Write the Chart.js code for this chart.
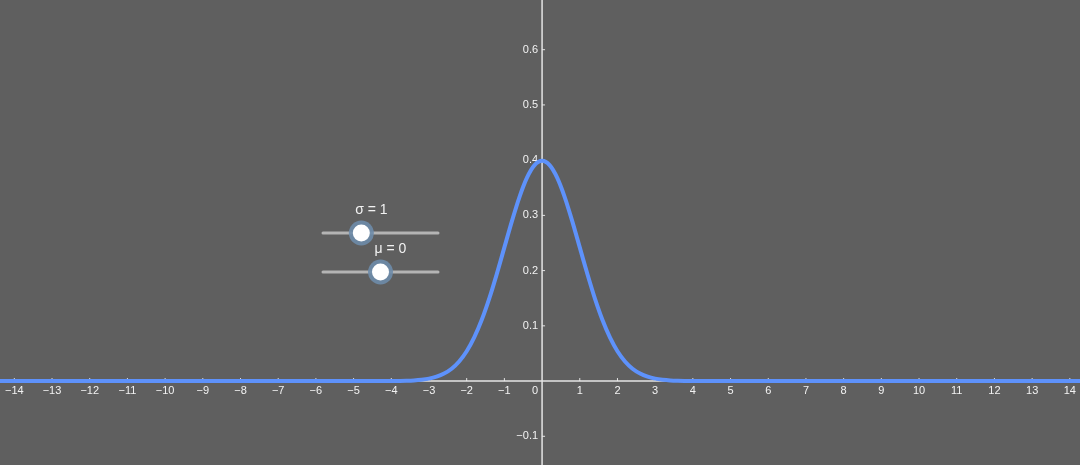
<!DOCTYPE html>
<html>
  <head>
    <meta charset="utf-8" />
    <title>Normal distribution</title>
    <script src="https://cdn.jsdelivr.net/npm/chart.js"></script>
    <style>
      html,
      body {
        margin: 0;
        padding: 0;
        background: #5f5f5f;
        overflow: hidden;
      }
      #wrap {
        width: 1080px;
        height: 465px;
      }
    </style>

    <script type="text/javascript">
      // ---------------------------------------------
      // values (density curve, mu = 0, sigma = 1)
      const curveX = [
        -14.5, -10, -7, -5, -4.8, -4.6, -4.4, -4.2, -4.0, -3.8, -3.6, -3.4, -3.2, -3.0, -2.8,
        -2.6, -2.4, -2.2, -2.0, -1.8, -1.6, -1.4, -1.2, -1.0, -0.8, -0.6, -0.4, -0.2, 0,
        0.2, 0.4, 0.6, 0.8, 1.0, 1.2, 1.4, 1.6, 1.8, 2.0, 2.2, 2.4, 2.6, 2.8, 3.0, 3.2,
        3.4, 3.6, 3.8, 4.0, 4.2, 4.4, 4.6, 4.8, 5, 7, 10, 14.5,
      ];
      const curveY = [
        0, 0, 0, 0, 0, 0, 0, 0.0001, 0.0001, 0.0003, 0.0006, 0.0012, 0.0024, 0.0044, 0.0079,
        0.0136, 0.0224, 0.0355, 0.054, 0.079, 0.1109, 0.1497, 0.1942, 0.242, 0.2897, 0.3332, 0.3683, 0.391, 0.3989,
        0.391, 0.3683, 0.3332, 0.2897, 0.242, 0.1942, 0.1497, 0.1109, 0.079, 0.054, 0.0355, 0.0224, 0.0136, 0.0079, 0.0044, 0.0024,
        0.0012, 0.0006, 0.0003, 0.0001, 0.0001, 0, 0, 0, 0, 0, 0, 0,
      ];

      // axis ticks
      const xTicks = [
        -14, -13, -12, -11, -10, -9, -8, -7, -6, -5, -4, -3, -2, -1,
        1, 2, 3, 4, 5, 6, 7, 8, 9, 10, 11, 12, 13, 14,
      ];
      const yTicks = [-0.1, 0.1, 0.2, 0.3, 0.4, 0.5, 0.6];

      // view window
      const xMin = -14.38;
      const xMax = 14.27;
      const yMin = -0.152;
      const yMax = 0.69;

      // sliders (fixed on screen like the original)
      const sliderNames = ["σ", "μ"];
      const sliderValues = [1, 0];
      const sliderMins = [0, -5];
      const sliderMaxs = [3, 5];

      const COL_AXIS = "rgba(235,235,235,0.95)";
      const COL_TEXT = "#f2f2f2";
      const FONT = '"Liberation Sans", Arial, sans-serif';

      function fmt(v) {
        var s = String(Math.abs(v));
        return v < 0 ? "\u2212" + s : s;
      }

      // draws GeoGebra style axes through the origin
      const axesPlugin = {
        id: "axesThroughOrigin",
        beforeDatasetsDraw(chart) {
          const ctx = chart.ctx;
          const xs = chart.scales.x;
          const ys = chart.scales.y;
          const area = chart.chartArea;
          const ox = xs.getPixelForValue(0);
          const oy = ys.getPixelForValue(0);

          ctx.save();
          ctx.strokeStyle = COL_AXIS;
          ctx.lineWidth = 1.5;
          ctx.beginPath();
          ctx.moveTo(area.left, oy);
          ctx.lineTo(area.right, oy);
          ctx.moveTo(ox, area.top);
          ctx.lineTo(ox, area.bottom);
          ctx.stroke();

          ctx.fillStyle = COL_TEXT;
          ctx.font = "11px " + FONT;

          // x ticks
          ctx.textAlign = "center";
          ctx.textBaseline = "middle";
          ctx.lineWidth = 1;
          for (var i = 0; i < xTicks.length; i++) {
            var px = xs.getPixelForValue(xTicks[i]);
            ctx.beginPath();
            ctx.moveTo(px, oy - 3);
            ctx.lineTo(px, oy);
            ctx.stroke();
            ctx.fillText(fmt(xTicks[i]), px, oy + 10);
          }

          // y ticks
          ctx.textAlign = "right";
          for (var j = 0; j < yTicks.length; j++) {
            var py = ys.getPixelForValue(yTicks[j]);
            ctx.beginPath();
            ctx.moveTo(ox, py);
            ctx.lineTo(ox + 3, py);
            ctx.stroke();
            ctx.fillText(fmt(yTicks[j]), ox - 4, py);
          }

          // origin
          ctx.fillText("0", ox - 4, oy + 10);
          ctx.restore();
        },
        afterDatasetsDraw(chart) {
          const ctx = chart.ctx;
          const left = 323;
          const right = 438;
          const rows = [233, 272];
          ctx.save();
          for (var k = 0; k < sliderNames.length; k++) {
            var y = rows[k];
            var f = (sliderValues[k] - sliderMins[k]) / (sliderMaxs[k] - sliderMins[k]);
            var kx = left + f * (right - left);

            ctx.strokeStyle = "#b4b4b4";
            ctx.lineWidth = 3;
            ctx.lineCap = "round";
            ctx.beginPath();
            ctx.moveTo(left, y);
            ctx.lineTo(right, y);
            ctx.stroke();

            ctx.fillStyle = "rgba(110,140,170,0.9)";
            ctx.beginPath();
            ctx.arc(kx, y, 12.5, 0, Math.PI * 2);
            ctx.fill();
            ctx.fillStyle = "#ffffff";
            ctx.beginPath();
            ctx.arc(kx, y, 8.5, 0, Math.PI * 2);
            ctx.fill();

            ctx.fillStyle = COL_TEXT;
            ctx.font = "14px " + FONT;
            ctx.textAlign = "center";
            ctx.textBaseline = "middle";
            ctx.fillText(sliderNames[k] + " = " + sliderValues[k], kx + 10, y - 23);
          }
          ctx.restore();
        },
      };

      function start() {
        var pts = [];
        for (var n = 0; n < curveX.length; n++) pts.push({ x: curveX[n], y: curveY[n] });

        new Chart(document.getElementById("graph"), {
          type: "line",
          data: {
            datasets: [
              {
                data: pts,
                borderColor: "#5e92fb",
                borderWidth: 4,
                pointRadius: 0,
                tension: 0.3,
                fill: false,
                borderCapStyle: "round",
                borderJoinStyle: "round",
              },
            ],
          },
          options: {
            responsive: false,
            animation: false,
            layout: { padding: 0 },
            plugins: { legend: { display: false }, tooltip: { enabled: false } },
            scales: {
              x: { type: "linear", min: xMin, max: xMax, display: false },
              y: { type: "linear", min: yMin, max: yMax, display: false },
            },
          },
          plugins: [axesPlugin],
        });
      }
    </script>
  </head>

  <body onLoad="start()">
    <div id="wrap">
      <canvas id="graph" width="1080" height="465"></canvas>
    </div>
  </body>
</html>
